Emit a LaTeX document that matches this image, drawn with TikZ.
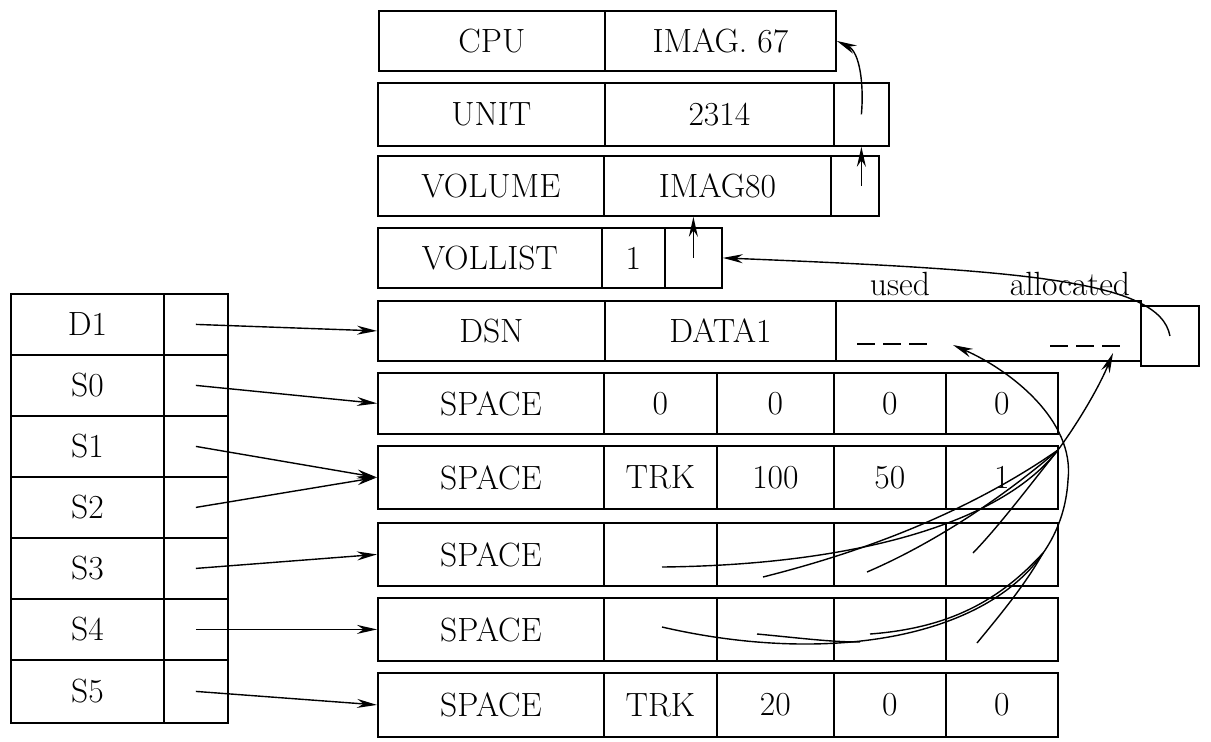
\documentclass[tikz,border=0pt]{standalone}
\usepackage{tikz}
\usetikzlibrary{arrows.meta}
\tikzset{
  cell/.style={draw, line width=0.9pt, inner sep=0pt, anchor=north west, minimum height=30pt},
  ptr/.style={line width=0.7pt, -{Stealth[length=10pt,width=4.5pt]}},
  link/.style={line width=0.7pt},
}

\begin{document}
\begin{tikzpicture}[x=0.5pt, y=-0.5pt, font=\fontsize{16.8}{20}\selectfont]
  \useasboundingbox (0,0) rectangle (1211,741);
  % volume entries
  \node[cell, minimum width=113pt] (cpuKey) at (378,10) {CPU};
  \node[cell, minimum width=115.5pt] (cpuVal) at (604,10) {IMAG. 67};
  \node[cell, minimum width=113.5pt, minimum height=31.5pt] (unitKey) at (377,82) {UNIT};
  \node[cell, minimum width=114.5pt, minimum height=31.5pt] (unitVal) at (604,82) {2314};
  \node[cell, minimum width=27.5pt, minimum height=31.5pt] (unitPtr) at (833,82) {};
  \node[cell, minimum width=113pt] (volKey) at (377,155) {VOLUME};
  \node[cell, minimum width=113.5pt] (volVal) at (603,155) {IMAG80};
  \node[cell, minimum width=24pt] (volPtr) at (830,155) {};
  \node[cell, minimum width=112pt] (vlKey) at (377,227) {VOLLIST};
  \node[cell, minimum width=31.5pt] (vlCnt) at (601,227) {1};
  \node[cell, minimum width=28.5pt] (vlPtr) at (664,227) {};
  % data set entry
  \node[cell, minimum width=113.5pt] (dsnKey) at (377,300) {DSN};
  \node[cell, minimum width=115.5pt] (dsnVal) at (604,300) {DATA1};
  \node[cell, minimum width=152.5pt] (dsnExt) at (835,300) {};
  \node[cell, minimum width=29pt] (dsnPtr) at (1140,305) {};
  \node (usedLbl) at (900,284) {used};
  \node (allocLbl) at (1070,284) {allocated};
  \draw[line width=0.9pt, dash pattern=on 9pt off 4pt] (857,344) -- (927,344);
  \draw[line width=0.9pt, dash pattern=on 9pt off 4pt] (1050,346) -- (1125,346);
  \coordinate (usedTip) at (953,345);
  \coordinate (allocTip) at (1113,353);
  % space entries
  \node[cell, minimum width=113pt, minimum height=30.5pt] (sp0a) at (377,372) {SPACE};
  \node[cell, minimum width=56.5pt, minimum height=30.5pt] (sp0b) at (603,372) {0};
  \node[cell, minimum width=58.5pt, minimum height=30.5pt] (sp0c) at (716,372) {0};
  \node[cell, minimum width=56pt, minimum height=30.5pt] (sp0d) at (833,372) {0};
  \node[cell, minimum width=56pt, minimum height=30.5pt] (sp0e) at (945,372) {0};
  \node[cell, minimum width=113pt, minimum height=31.5pt] (sp1a) at (377,445) {SPACE};
  \node[cell, minimum width=56.5pt, minimum height=31.5pt] (sp1b) at (603,445) {TRK};
  \node[cell, minimum width=58.5pt, minimum height=31.5pt] (sp1c) at (716,445) {100};
  \node[cell, minimum width=56pt, minimum height=31.5pt] (sp1d) at (833,445) {50};
  \node[cell, minimum width=56pt, minimum height=31.5pt] (sp1e) at (945,445) {1};
  \node[cell, minimum width=113pt, minimum height=31.5pt] (sp2a) at (377,522) {SPACE};
  \node[cell, minimum width=56.5pt, minimum height=31.5pt] (sp2b) at (603,522) {};
  \node[cell, minimum width=58.5pt, minimum height=31.5pt] (sp2c) at (716,522) {};
  \node[cell, minimum width=56pt, minimum height=31.5pt] (sp2d) at (833,522) {};
  \node[cell, minimum width=56pt, minimum height=31.5pt] (sp2e) at (945,522) {};
  \node[cell, minimum width=113pt, minimum height=31.5pt] (sp3a) at (377,597) {SPACE};
  \node[cell, minimum width=56.5pt, minimum height=31.5pt] (sp3b) at (603,597) {};
  \node[cell, minimum width=58.5pt, minimum height=31.5pt] (sp3c) at (716,597) {};
  \node[cell, minimum width=56pt, minimum height=31.5pt] (sp3d) at (833,597) {};
  \node[cell, minimum width=56pt, minimum height=31.5pt] (sp3e) at (945,597) {};
  \node[cell, minimum width=113pt, minimum height=32pt] (sp4a) at (377,672) {SPACE};
  \node[cell, minimum width=56.5pt, minimum height=32pt] (sp4b) at (603,672) {TRK};
  \node[cell, minimum width=58.5pt, minimum height=32pt] (sp4c) at (716,672) {20};
  \node[cell, minimum width=56pt, minimum height=32pt] (sp4d) at (833,672) {0};
  \node[cell, minimum width=56pt, minimum height=32pt] (sp4e) at (945,672) {0};
  % name table
  \node[cell, minimum width=76.5pt, minimum height=30.5pt] (d1Name) at (10,293) {D1};
  \node[cell, minimum width=32pt, minimum height=30.5pt] (d1Ptr) at (163,293) {};
  \node[cell, minimum width=76.5pt, minimum height=30.5pt] (s0Name) at (10,354) {S0};
  \node[cell, minimum width=32pt, minimum height=30.5pt] (s0Ptr) at (163,354) {};
  \node[cell, minimum width=76.5pt, minimum height=30.5pt] (s1Name) at (10,415) {S1};
  \node[cell, minimum width=32pt, minimum height=30.5pt] (s1Ptr) at (163,415) {};
  \node[cell, minimum width=76.5pt, minimum height=30.5pt] (s2Name) at (10,476) {S2};
  \node[cell, minimum width=32pt, minimum height=30.5pt] (s2Ptr) at (163,476) {};
  \node[cell, minimum width=76.5pt, minimum height=30.5pt] (s3Name) at (10,537) {S3};
  \node[cell, minimum width=32pt, minimum height=30.5pt] (s3Ptr) at (163,537) {};
  \node[cell, minimum width=76.5pt, minimum height=30.5pt] (s4Name) at (10,598) {S4};
  \node[cell, minimum width=32pt, minimum height=30.5pt] (s4Ptr) at (163,598) {};
  \node[cell, minimum width=76.5pt, minimum height=31.5pt] (s5Name) at (10,659) {S5};
  \node[cell, minimum width=32pt, minimum height=31.5pt] (s5Ptr) at (163,659) {};
  % pointers from the name table
  \draw[ptr] (d1Ptr.center) -- (dsnKey.west);
  \draw[ptr] (s0Ptr.center) -- (sp0a.west);
  \draw[ptr] (s1Ptr.center) -- (sp1a.west);
  \draw[ptr] (s2Ptr.center) -- (sp1a.west);
  \draw[ptr] (s3Ptr.center) -- (sp2a.west);
  \draw[ptr] (s4Ptr.center) -- (sp3a.west);
  \draw[ptr] (s5Ptr.center) -- (sp4a.west);
  % chain upwards
  \draw[ptr] (vlPtr.center) -- (vlPtr.center |- volVal.south);
  \draw[ptr] (unitPtr.south |- volPtr.center) -- (unitPtr.south);
  \draw[ptr] (unitPtr.center) .. controls (864,85) and (860,52) .. (cpuVal.east);
  \draw[ptr] (dsnPtr.center) .. controls (1160,280) and (1020,270) .. (vlPtr.east);
  % extents gathered into allocated
  \coordinate (hub) at (1058,450);
  \coordinate (tA) at (662,567); \coordinate (tB) at (763,577);
  \coordinate (tC) at (867,572); \coordinate (tD) at (973,553);
  \draw[link] (tA) .. controls (850,565) and (1000,525) .. (hub);
  \draw[link] (tB) .. controls (830,560) and (950,525) .. (hub);
  \draw[link] (tC) .. controls (930,545) and (1000,500) .. (hub);
  \draw[link] (tD) .. controls (1000,525) and (1030,485) .. (hub);
  \draw[ptr] (hub) .. controls (1080,420) and (1100,385) .. (allocTip);
  % extents gathered into used
  \coordinate (bend) at (1068,480);
  \coordinate (mLow) at (860,642); \coordinate (mHigh) at (1043,553);
  \coordinate (uA) at (662,627); \coordinate (uB) at (757,634);
  \coordinate (uC) at (870,634); \coordinate (uD) at (977,643);
  \draw[link] (uA) .. controls (870,675) and (1060,620) .. (bend);
  \draw[link] (uB) .. controls (800,638) and (830,642) .. (mLow);
  \draw[link] (uC) .. controls (950,628) and (1000,600) .. (mHigh);
  \draw[link] (uD) .. controls (1000,615) and (1025,585) .. (mHigh);
  \draw[ptr] (bend) .. controls (1075,420) and (1010,370) .. (usedTip);
\end{tikzpicture}
\end{document}
